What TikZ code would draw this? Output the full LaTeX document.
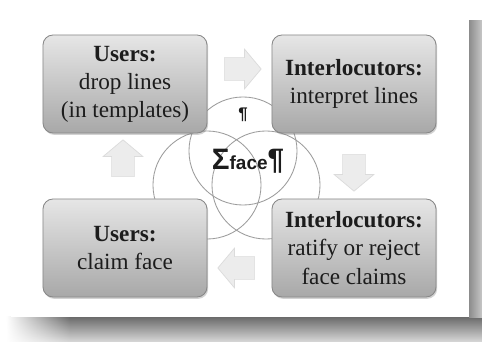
\documentclass[tikz,border=0pt]{standalone}
\usepackage{fontspec}
\setmainfont{Liberation Serif}
\newfontfamily\facefont{Liberation Sans}
\usetikzlibrary{shapes.arrows,shadows,fadings}

\definecolor{boxtop}{HTML}{E6E6E6}
\definecolor{boxbottom}{HTML}{A8A8A8}
\definecolor{boxline}{HTML}{878787}
\definecolor{ringline}{HTML}{9C9C9C}
\definecolor{arrowfill}{HTML}{ECECEC}
\definecolor{inktext}{HTML}{1C1C1C}

\tikzfading[name=cardfade, left color=transparent!100, right color=transparent!0]

\tikzset{
  stagebox/.style={rectangle, rounded corners=0.25cm, draw=boxline, line width=0.6pt,
    top color=boxtop, bottom color=boxbottom, minimum width=4.1cm, minimum height=2.45cm,
    align=center, text=inktext, font=\fontsize{16.5}{20}\selectfont,
    drop shadow={shadow xshift=0.8pt, shadow yshift=-1.3pt, opacity=0.35}},
  ring/.style={circle, draw=ringline, line width=0.6pt, minimum size=2.7cm, inner sep=0pt},
  cyclearrow/.style={single arrow, fill=arrowfill, draw=gray!28, line width=0.5pt,
    inner xsep=0pt, inner ysep=0.275cm, minimum height=0.92cm,
    single arrow head extend=0.21cm, single arrow tip angle=100},
  cardshadow/.style={top color=black!58, bottom color=black!15},
}

\begin{document}
\begin{tikzpicture}[x=0.025cm, y=-0.025cm]%[show background grid]
    \useasboundingbox (0,0) rectangle (482,342);

    % card and its shadow
    \shade[cardshadow, path fading=cardfade] (6,317) rectangle (70,342);
    \shade[cardshadow] (70,317) rectangle (482,342);
    \shade[left color=black!45, right color=black!22] (469,20) rectangle (482,317);
    \fill[white] (11,14) rectangle (469,317);

    \node[ring] (ringtop)   at (243,151) {};
    \node[ring] (ringleft)  at (207,185) {};
    \node[ring] (ringright) at (266,185) {};

    \node[stagebox] (drop)    at (125,84)  {\textbf{Users:}\\drop lines\\(in templates)};
    \node[stagebox] (interpret) at (354,84)  {\textbf{Interlocutors:}\\interpret lines};
    \node[stagebox] (ratify)  at (354,248) {\textbf{Interlocutors:}\\ratify or reject\\face claims};
    \node[stagebox] (claim)   at (125,248) {\textbf{Users:}\\claim face};

    \node[cyclearrow] (toright) at (238,69) {};
    \node[cyclearrow, rotate=-90] (todown) at (354,168) {};
    \node[cyclearrow, rotate=180] (toleft) at (241,268) {};
    \node[cyclearrow, rotate=90] (toup) at (123,163) {};

    \node[text=inktext, font=\facefont\bfseries\fontsize{12}{12}\selectfont] (pilcrow) at (243,115) {¶};
    \node[text=inktext, font=\facefont\bfseries] (sumface) at (248,161)
      {\fontsize{21}{21}\selectfont Σ\fontsize{13.5}{13.5}\selectfont face\fontsize{21}{21}\selectfont ¶};

  \end{tikzpicture}
\end{document}
